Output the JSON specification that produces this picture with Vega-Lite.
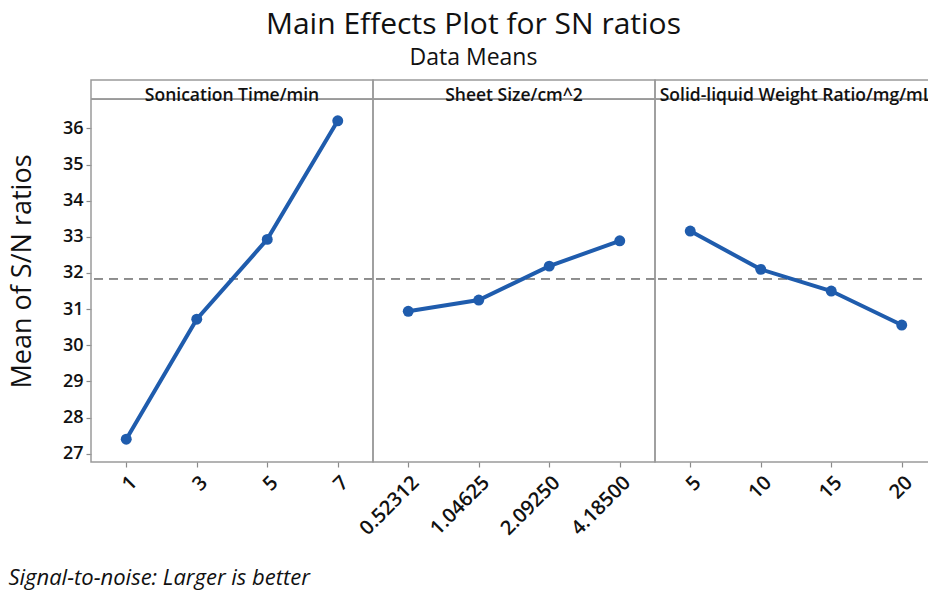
{
  "$schema": "https://vega.github.io/schema/vega-lite/v6.json",
  "padding": {"left": 8, "top": 10, "right": 0, "bottom": 0},
  "config": {
    "font": "Open Sans",
    "view": {"stroke": "#9a9a9a", "strokeWidth": 1.5},
    "axis": {"grid": false, "domain": false, "tickColor": "#8a8a8a", "tickSize": 5, "tickWidth": 1.2, "labelColor": "#111", "labelFont": "Open Sans", "labelFontWeight": 600, "labelFontSize": 18, "titleColor": "#111", "titleFont": "Open Sans"}
  },
  "title": {"text": "Signal-to-noise: Larger is better", "orient": "bottom", "anchor": "start", "frame": "bounds", "font": "Open Sans", "fontSize": 22, "fontStyle": "italic", "fontWeight": "normal", "color": "#111", "offset": 29},
  "vconcat": [
    {
      "title": {"text": "Main Effects Plot for SN ratios", "subtitle": "Data Means", "anchor": "middle", "frame": "bounds", "font": "Open Sans", "fontSize": 30, "fontWeight": "normal", "color": "#111", "subtitleFont": "Open Sans", "subtitleFontSize": 23, "subtitleColor": "#111", "subtitlePadding": 7, "offset": 9},
      "data": {"values": [
        {"factor": "Sonication Time/min", "level": "1", "idx": 1, "sn": 27.40},
        {"factor": "Sonication Time/min", "level": "3", "idx": 2, "sn": 30.72},
        {"factor": "Sonication Time/min", "level": "5", "idx": 3, "sn": 32.93},
        {"factor": "Sonication Time/min", "level": "7", "idx": 4, "sn": 36.21},
        {"factor": "Sheet Size/cm^2", "level": "0.52312", "idx": 1, "sn": 30.94},
        {"factor": "Sheet Size/cm^2", "level": "1.04625", "idx": 2, "sn": 31.25},
        {"factor": "Sheet Size/cm^2", "level": "2.09250", "idx": 3, "sn": 32.19},
        {"factor": "Sheet Size/cm^2", "level": "4.18500", "idx": 4, "sn": 32.89},
        {"factor": "Solid-liquid Weight Ratio/mg/mL", "level": "5", "idx": 1, "sn": 33.16},
        {"factor": "Solid-liquid Weight Ratio/mg/mL", "level": "10", "idx": 2, "sn": 32.10},
        {"factor": "Solid-liquid Weight Ratio/mg/mL", "level": "15", "idx": 3, "sn": 31.50},
        {"factor": "Solid-liquid Weight Ratio/mg/mL", "level": "20", "idx": 4, "sn": 30.56}
      ]},
      "facet": {"column": {"field": "factor", "type": "nominal", "sort": ["Sonication Time/min", "Sheet Size/cm^2", "Solid-liquid Weight Ratio/mg/mL"], "header": null}},
      "spacing": 0,
      "bounds": "flush",
      "resolve": {"scale": {"x": "independent"}},
      "spec": {
        "width": 282,
        "height": 382,
        "encoding": {
          "y": {"field": "sn", "type": "quantitative", "scale": {"domain": [26.77, 37.34], "nice": false, "zero": false},
                "axis": {"values": [27, 28, 29, 30, 31, 32, 33, 34, 35, 36], "title": "Mean of S/N ratios", "titleFontSize": 27, "titleFontWeight": "normal", "titlePadding": 26, "labelPadding": 3}}
        },
        "layer": [
          {"mark": {"type": "rule", "color": "#9a9a9a", "strokeWidth": 1.5}, "encoding": {"y": {"datum": 36.81}}},
          {"mark": {"type": "rule", "color": "#8c8c8c", "strokeWidth": 1.5, "strokeDash": [9, 6]}, "encoding": {"y": {"datum": 31.84}}},
          {"transform": [{"filter": "datum.idx == 1"}],
           "mark": {"type": "text", "font": "Open Sans", "fontSize": 17.5, "fontWeight": 600, "baseline": "alphabetic", "align": "center", "color": "#111", "limit": 0},
           "encoding": {"text": {"field": "factor"}, "y": {"datum": 36.77}}},
          {"mark": {"type": "line", "color": "#1f5cad", "strokeWidth": 4, "point": {"filled": true, "size": 120, "color": "#1f5cad"}},
           "encoding": {
             "x": {"field": "level", "type": "nominal", "sort": {"field": "idx", "op": "min"}, "scale": {"type": "point", "padding": 0.5},
                   "axis": {"title": null, "labelAngle": -45, "labelPadding": 5, "labelFontSize": 20}},
             "y": {"field": "sn", "type": "quantitative"}
           }}
        ]
      }
    }
  ]
}
